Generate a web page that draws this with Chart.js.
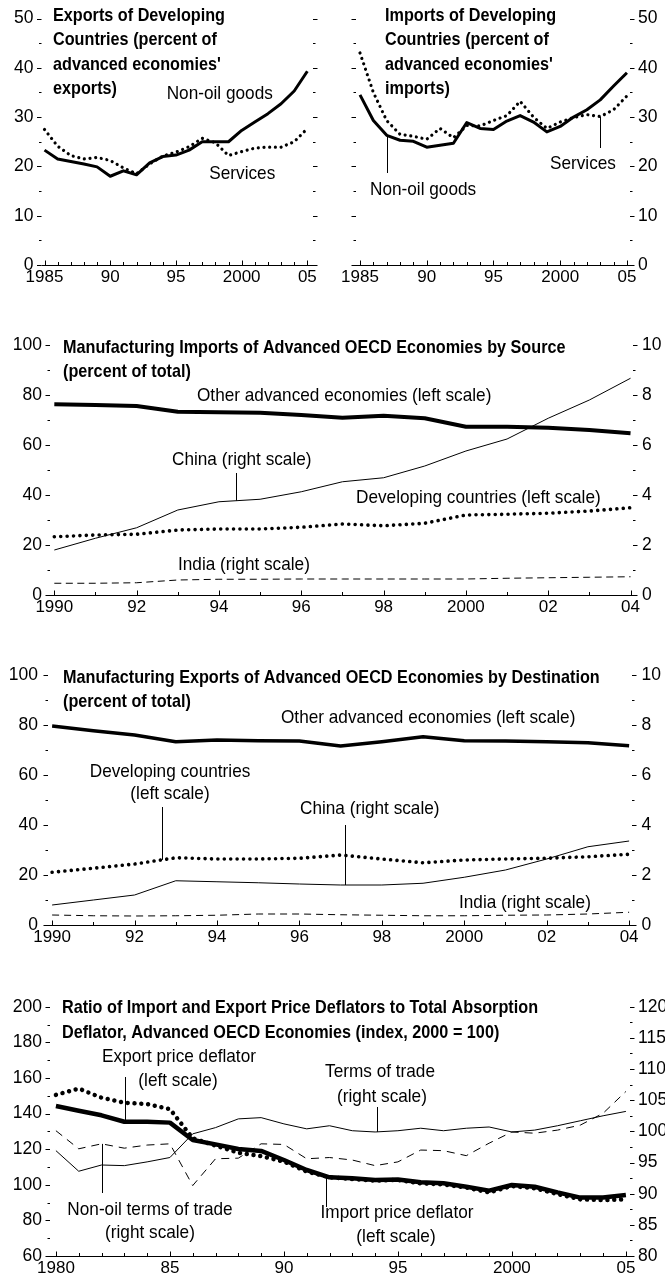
<!DOCTYPE html>
<html>
<head>
<meta charset="utf-8">
<title>Trade shares and price deflators</title>
<script src="https://cdn.jsdelivr.net/npm/chart.js@4.4.1/dist/chart.umd.min.js"></script>
<style>
  html, body { margin: 0; padding: 0; background: #fff; }
  body { position: relative; width: 665px; height: 1281px; overflow: hidden; }
  canvas { position: absolute; display: block; }
</style>
</head>
<body>
<canvas id="c1" width="330" height="300" style="left:0;top:0"></canvas>
<canvas id="c2" width="335" height="300" style="left:330px;top:0"></canvas>
<canvas id="c3" width="665" height="300" style="left:0;top:320px"></canvas>
<canvas id="c4" width="665" height="318" style="left:0;top:640px"></canvas>
<canvas id="c5" width="665" height="321" style="left:0;top:960px"></canvas>
<script>
const FONT = '"Liberation Sans", Arial, sans-serif';
Chart.defaults.font.family = FONT;
Chart.defaults.font.size = 16;
Chart.defaults.color = "#000";

// --- top panels, 1985-2005 (percent of advanced economies' trade)
const yearsA = [1985, 1986, 1987, 1988, 1989, 1990, 1991, 1992, 1993, 1994, 1995,
  1996, 1997, 1998, 1999, 2000, 2001, 2002, 2003, 2004, 2005];
const expNonOil = [23.3, 21.5, 21.0, 20.5, 19.9, 18.0, 19.1, 18.3, 20.7, 22.0, 22.3,
  23.3, 25.0, 25.0, 25.0, 27.3, 29.0, 30.7, 32.7, 35.3, 39.3];
const expServices = [27.5, 24.1, 22.2, 21.5, 21.8, 21.2, 19.7, 18.5, 20.5, 22.1, 22.9,
  24.0, 25.7, 24.8, 22.2, 23.0, 23.7, 23.9, 23.9, 25.0, 27.7];
const impNonOil = [34.5, 29.3, 26.3, 25.3, 25.1, 23.9, 24.3, 24.7, 28.9, 27.7, 27.5,
  29.2, 30.3, 29.0, 27.0, 28.1, 30.0, 31.5, 33.5, 36.3, 39.0];
const impServices = [43.0, 35.0, 29.3, 26.5, 26.1, 25.5, 27.7, 25.8, 28.3, 28.2, 29.3,
  30.3, 33.2, 30.0, 27.7, 29.0, 29.9, 30.5, 30.1, 31.5, 34.3];
const ticksA = [1985, 1990, 1995, 2000, 2005];
const tickTextA = ["1985", "90", "95", "2000", "05"];

// --- manufacturing trade of advanced OECD economies, 1990-2004
const yearsB = [1990, 1991, 1992, 1993, 1994, 1995, 1996, 1997, 1998, 1999, 2000,
  2001, 2002, 2003, 2004];
const mImpOther = [76.3, 76.0, 75.6, 73.3, 73.1, 72.9, 72.0, 70.9, 71.7, 70.7, 67.3, 67.3, 66.9, 66.0, 64.7];
const mImpDev = [23.3, 24.0, 24.3, 26.0, 26.4, 26.4, 27.1, 28.4, 27.7, 28.7, 32.0, 32.3, 32.7, 33.6, 34.9];
const mImpChina = [1.80, 2.27, 2.69, 3.40, 3.73, 3.83, 4.13, 4.53, 4.69, 5.16, 5.76, 6.24, 7.07, 7.80, 8.67];
const mImpIndia = [0.47, 0.47, 0.49, 0.60, 0.63, 0.63, 0.64, 0.64, 0.64, 0.64, 0.64, 0.67, 0.69, 0.71, 0.73];
const mExpOther = [79.6, 77.7, 76.0, 73.3, 74.0, 73.7, 73.6, 71.6, 73.3, 75.3, 73.7, 73.6, 73.3, 72.9, 71.7];
const mExpDev = [21.1, 22.7, 24.4, 26.9, 26.4, 26.4, 26.7, 28.0, 26.4, 24.9, 26.0, 26.4, 26.7, 27.3, 28.3];
const mExpChina = [0.80, 1.00, 1.20, 1.77, 1.73, 1.69, 1.64, 1.60, 1.60, 1.67, 1.91, 2.20, 2.64, 3.13, 3.36];
const mExpIndia = [0.40, 0.37, 0.36, 0.37, 0.39, 0.44, 0.44, 0.41, 0.39, 0.37, 0.37, 0.39, 0.40, 0.44, 0.51];
const ticksB = [1990, 1992, 1994, 1996, 1998, 2000, 2002, 2004];
const tickTextB = ["1990", "92", "94", "96", "98", "2000", "02", "04"];

// --- deflator ratios, 1980-2005 (index, 2000 = 100)
const yearsC = [1980, 1981, 1982, 1983, 1984, 1985, 1986, 1987, 1988, 1989, 1990, 1991, 1992,
  1993, 1994, 1995, 1996, 1997, 1998, 1999, 2000, 2001, 2002, 2003, 2004, 2005];
const exportDeflator = [144.2, 141.6, 139.0, 135.4, 135.4, 134.9, 125.1, 122.7, 120.1, 119.0, 113.9, 108.3, 104.2,
  103.6, 102.7, 103.0, 101.4, 100.8, 98.9, 96.7, 99.9, 98.9, 95.7, 92.8, 92.8, 94.3];
const importDeflator = [150.5, 154.0, 148.9, 146.1, 145.3, 142.5, 126.1, 122.0, 118.0, 116.1, 113.0, 107.4, 104.2,
  103.2, 102.3, 102.7, 100.8, 100.2, 98.4, 95.7, 99.3, 98.0, 94.8, 91.8, 91.4, 91.8];
const termsOfTrade = [96.9, 93.6, 94.6, 94.5, 95.1, 95.8, 99.6, 100.6, 102.0, 102.2, 101.2, 100.4, 100.9,
  100.1, 99.9, 100.1, 100.5, 100.1, 100.5, 100.7, 99.9, 100.2, 100.9, 101.7, 102.5, 103.2];
const nonOilTerms = [100.1, 97.2, 98.0, 97.3, 97.8, 98.0, 91.3, 95.6, 95.7, 98.0, 97.9, 95.6, 95.8,
  95.4, 94.5, 95.1, 97.0, 96.9, 96.1, 98.1, 99.9, 99.7, 100.2, 101.0, 102.9, 106.4];
const ticksC = [1980, 1985, 1990, 1995, 2000, 2005];
const tickTextC = ["1980", "85", "90", "95", "2000", "05"];

// condensed face for the year labels if the narrow Liberation cut is installed
function hasFont(name) {
  const c = document.createElement("canvas").getContext("2d");
  const probe = "1990 Abcdefghij";
  c.font = "40px monospace";
  const a = c.measureText(probe).width;
  c.font = '40px "' + name + '", monospace';
  return c.measureText(probe).width !== a;
}
const NARROW = hasFont("Liberation Sans Narrow");
const yearFont = NARROW ? { family: '"Liberation Sans Narrow"', size: 20 } : { family: FONT, size: 17 };

// line looks
const solid = w => ({ borderWidth: w });
const dots = (w, gap) => ({ borderWidth: w, borderDash: [0.01, gap], borderCapStyle: "round" });
const dashed = (d, g) => ({ borderWidth: 1, borderDash: [d, g] });

function series(xs, ys, look, axis) {
  return Object.assign({
    data: xs.map((x, i) => ({ x, y: ys[i] })),
    yAxisID: axis || "y",
    borderColor: "#000",
    backgroundColor: "#000",
    borderJoinStyle: "round",
    pointRadius: 0,
    tension: 0,
    fill: false
  }, look);
}

function xScale(min, max, ticks, texts, h) {
  return {
    type: "linear", min, max, bounds: "data",
    afterBuildTicks: s => { s.ticks = ticks.map(v => ({ value: v })); },
    afterFit: s => { s.height = h; },
    ticks: {
      autoSkip: false, maxRotation: 0, padding: 2, font: yearFont,
      callback: v => { const i = ticks.indexOf(v); return i < 0 ? "" : texts[i]; }
    },
    grid: { display: false, drawTicks: false },
    border: { display: false }
  };
}

function yScale(pos, min, max, step, w, pad) {
  return {
    type: "linear", position: pos, min, max,
    ticks: { stepSize: step, padding: pad, font: { size: 17.5 } },
    grid: { display: false, drawTicks: false },
    border: { display: false },
    afterFit: s => { s.width = w; }
  };
}

function base(extra) {
  return Object.assign({
    responsive: false,
    animation: false,
    devicePixelRatio: 1,
    events: [],
    plugins: { legend: { display: false }, tooltip: { enabled: false } }
  }, extra);
}

// text squeezed sideways to get the condensed look of the original
function squeezed(ctx, text, x, y, align, font, sx) {
  ctx.font = font;
  const w = ctx.measureText(text).width * sx;
  const left = align === "center" ? x - w / 2 : x;
  ctx.save();
  ctx.translate(left, y);
  ctx.scale(sx, 1);
  ctx.textAlign = "left";
  ctx.fillText(text, 0, 0);
  ctx.restore();
}

// axis line, tick dashes, titles, labels and pointer lines
function decor(cfg) {
  return {
    id: "decor",
    afterDraw(chart) {
      const { ctx, chartArea: a, scales } = chart;
      const xs = scales.x;
      ctx.save();
      ctx.strokeStyle = "#000";
      ctx.fillStyle = "#000";
      ctx.lineWidth = 1;
      ctx.setLineDash([]);
      ctx.beginPath();
      const yb = Math.round(a.bottom) + 0.5;
      ctx.moveTo(a.left, yb);
      ctx.lineTo(a.right, yb);
      for (let yr = Math.ceil(xs.min); yr <= xs.max; yr++) {
        const px = Math.round(xs.getPixelForValue(yr)) + 0.5;
        const len = cfg.xMajor.includes(yr) ? 5 : 3.5;
        ctx.moveTo(px, yb);
        ctx.lineTo(px, yb - len);
      }
      ["left", "right"].forEach(side => {
        const t = cfg[side];
        if (!t) return;
        const s = scales[t.axis];
        const n = Math.round((s.max - s.min) / t.minor);
        const x0 = side === "left" ? a.left : a.right;
        const dir = side === "left" ? -1 : 1;
        for (let i = 0; i <= n; i++) {
          const v = s.min + i * t.minor;
          const py = Math.round(s.getPixelForValue(v)) + 0.5;
          const major = Math.abs(v / t.major - Math.round(v / t.major)) < 1e-6;
          ctx.moveTo(x0, py);
          ctx.lineTo(x0 + dir * (major ? 4.5 : 2.5), py);
        }
      });
      (cfg.leaders || []).forEach(l => {
        const ds = chart.data.datasets[l.ds];
        const pts = ds.data;
        let v = pts[0].y;
        for (let i = 0; i < pts.length - 1; i++) {
          if (l.year >= pts[i].x && l.year <= pts[i + 1].x) {
            const f = (l.year - pts[i].x) / (pts[i + 1].x - pts[i].x);
            v = pts[i].y + f * (pts[i + 1].y - pts[i].y);
          }
        }
        const px = Math.round(xs.getPixelForValue(l.year)) + 0.5;
        ctx.moveTo(px, scales[ds.yAxisID].getPixelForValue(v));
        ctx.lineTo(px, l.end);
      });
      ctx.stroke();

      ctx.textBaseline = "alphabetic";
      cfg.title.forEach((line, i) =>
        squeezed(ctx, line, cfg.titleX, cfg.titleY + i * 24.5, "left", "bold 19px " + FONT, 0.853));
      cfg.labels.forEach(([text, x, y, align]) =>
        squeezed(ctx, text, x, y, align || "left", "19px " + FONT, 0.905));
      ctx.restore();
    }
  };
}

// Exports of developing countries
new Chart(document.getElementById("c1"), {
  type: "line",
  data: { datasets: [
    series(yearsA, expServices, dots(3.2, 5.7)),
    series(yearsA, expNonOil, solid(3))
  ] },
  options: base({
    layout: { padding: { top: 15, right: 17, left: 0, bottom: 0 } },
    scales: {
      x: xScale(1984.77, 2005.43, ticksA, tickTextA, 35),
      y: yScale("left", 0, 50, 10, 41.5, 8)
    }
  }),
  plugins: [decor({
    xMajor: ticksA,
    left: { axis: "y", major: 10, minor: 5 },
    right: { axis: "y", major: 10, minor: 5 },
    title: ["Exports of Developing", "Countries (percent of", "advanced economies'", "exports)"],
    titleX: 53, titleY: 20.7,
    labels: [["Non-oil goods", 166.7, 99], ["Services", 209.3, 179]]
  })]
});

// Imports of developing countries
new Chart(document.getElementById("c2"), {
  type: "line",
  data: { datasets: [
    series(yearsA, impServices, dots(3.2, 5.7)),
    series(yearsA, impNonOil, solid(3))
  ] },
  options: base({
    layout: { padding: { top: 15, right: 0, left: 26, bottom: 0 } },
    scales: {
      x: xScale(1984.7, 2005.23, ticksA, tickTextA, 35),
      y: yScale("right", 0, 50, 10, 35, 8)
    }
  }),
  plugins: [decor({
    xMajor: ticksA,
    left: { axis: "y", major: 10, minor: 5 },
    right: { axis: "y", major: 10, minor: 5 },
    title: ["Imports of Developing", "Countries (percent of", "advanced economies'", "imports)"],
    titleX: 55, titleY: 20.7,
    labels: [["Non-oil goods", 40, 195], ["Services", 220, 169]],
    leaders: [{ ds: 1, year: 1987, end: 173 }, { ds: 0, year: 2003, end: 148 }]
  })]
});

// Manufacturing imports by source
new Chart(document.getElementById("c3"), {
  type: "line",
  data: { datasets: [
    series(yearsB, mImpIndia, dashed(7, 4.5), "y2"),
    series(yearsB, mImpChina, solid(1), "y2"),
    series(yearsB, mImpDev, dots(3.6, 6.4)),
    series(yearsB, mImpOther, solid(4))
  ] },
  options: base({
    layout: { padding: { top: 25, right: 0, left: 0, bottom: 0 } },
    scales: {
      x: xScale(1989.895, 2004.06, ticksB, tickTextB, 25),
      y: yScale("left", 0, 100, 20, 50, 8),
      y2: yScale("right", 0, 10, 2, 32, 9)
    }
  }),
  plugins: [decor({
    xMajor: ticksB,
    left: { axis: "y", major: 20, minor: 10 },
    right: { axis: "y2", major: 2, minor: 1 },
    title: ["Manufacturing Imports of Advanced OECD Economies by Source", "(percent of total)"],
    titleX: 63, titleY: 32.7,
    labels: [
      ["Other advanced economies (left scale)", 197, 80.7],
      ["China (right scale)", 172, 145],
      ["Developing countries (left scale)", 356, 182.7],
      ["India (right scale)", 178, 250]
    ],
    leaders: [{ ds: 1, year: 1994.42, end: 153 }]
  })]
});

// Manufacturing exports by destination
new Chart(document.getElementById("c4"), {
  type: "line",
  data: { datasets: [
    series(yearsB, mExpIndia, dashed(7, 5), "y2"),
    series(yearsB, mExpChina, solid(1), "y2"),
    series(yearsB, mExpDev, dots(3.6, 6.4)),
    series(yearsB, mExpOther, solid(3.5))
  ] },
  options: base({
    layout: { padding: { top: 35, right: 0, left: 0, bottom: 0 } },
    scales: {
      x: xScale(1989.9, 2004.07, ticksB, tickTextB, 33),
      y: yScale("left", 0, 100, 20, 48, 10),
      y2: yScale("right", 0, 10, 2, 33, 9.5)
    }
  }),
  plugins: [decor({
    xMajor: ticksB,
    left: { axis: "y", major: 20, minor: 10 },
    right: { axis: "y2", major: 2, minor: 1 },
    title: ["Manufacturing Exports of Advanced OECD Economies by Destination", "(percent of total)"],
    titleX: 63, titleY: 42.7,
    labels: [
      ["Other advanced economies (left scale)", 281, 82.7],
      ["Developing countries", 170, 136.7, "center"],
      ["(left scale)", 170, 159.3, "center"],
      ["China (right scale)", 300, 174],
      ["India (right scale)", 459, 268.3]
    ],
    leaders: [{ ds: 2, year: 1992.66, end: 167 }, { ds: 1, year: 1997.1, end: 185 }]
  })]
});

// Deflator ratios
new Chart(document.getElementById("c5"), {
  type: "line",
  data: { datasets: [
    series(yearsC, nonOilTerms, dashed(8, 6), "y2"),
    series(yearsC, termsOfTrade, solid(1), "y2"),
    series(yearsC, importDeflator, dots(4.5, 6.8)),
    series(yearsC, exportDeflator, solid(4.5))
  ] },
  options: base({
    layout: { padding: { top: 46.7, right: 0, left: 0, bottom: 0 } },
    scales: {
      x: xScale(1979.74, 2005.18, ticksC, tickTextC, 25),
      y: yScale("left", 60, 200, 20, 50, 8),
      y2: yScale("right", 80, 120, 5, 35, 8)
    }
  }),
  plugins: [decor({
    xMajor: ticksC,
    left: { axis: "y", major: 20, minor: 10 },
    right: { axis: "y2", major: 5, minor: 2.5 },
    title: ["Ratio of Import and Export Price Deflators to Total Absorption",
      "Deflator, Advanced OECD Economies (index, 2000 = 100)"],
    titleX: 62, titleY: 53.3,
    labels: [
      ["Export price deflator", 179, 102.3, "center"],
      ["(left scale)", 178, 126, "center"],
      ["Terms of trade", 380, 117.3, "center"],
      ["(right scale)", 382, 141.7, "center"],
      ["Non-oil terms of trade", 150, 255, "center"],
      ["(right scale)", 150, 278.3, "center"],
      ["Import price deflator", 397, 258, "center"],
      ["(left scale)", 396, 282, "center"]
    ],
    leaders: [
      { ds: 3, year: 1983.03, end: 117 },
      { ds: 1, year: 1994.1, end: 147 },
      { ds: 0, year: 1982.02, end: 233 },
      { ds: 3, year: 1991.84, end: 247 }
    ]
  })]
});
</script>
</body>
</html>
